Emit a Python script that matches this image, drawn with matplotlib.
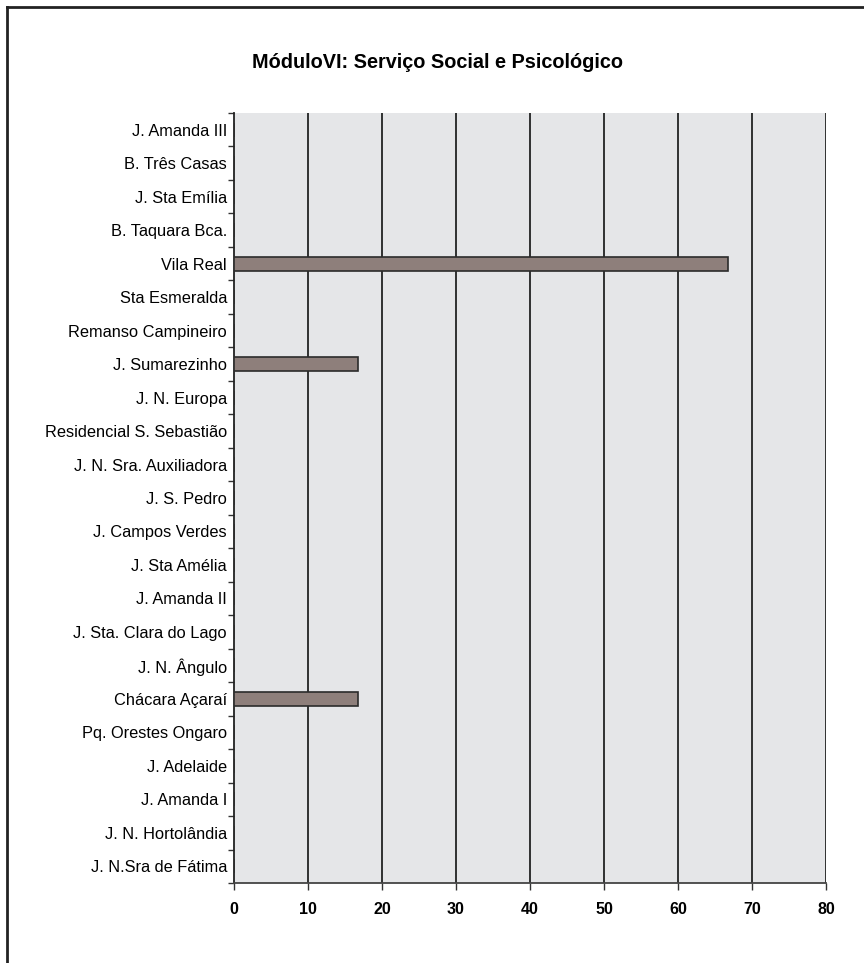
import numpy as np
import matplotlib.pyplot as plt
from matplotlib.lines import Line2D

plt.rcParams['font.family'] = ['Liberation Sans', 'DejaVu Sans']

# categories from top to bottom as shown
bairros = ["J. Amanda III", "B. Três Casas", "J. Sta Emília", "B. Taquara Bca.",
           "Vila Real", "Sta Esmeralda", "Remanso Campineiro", "J. Sumarezinho",
           "J. N. Europa", "Residencial S. Sebastião", "J. N. Sra. Auxiliadora",
           "J. S. Pedro", "J. Campos Verdes", "J. Sta Amélia", "J. Amanda II",
           "J. Sta. Clara do Lago", "J. N. Ângulo", "Chácara Açaraí",
           "Pq. Orestes Ongaro", "J. Adelaide", "J. Amanda I", "J. N. Hortolândia",
           "J. N.Sra de Fátima"]
valores = [0, 0, 0, 0, 66.7, 0, 0, 16.7, 0, 0, 0, 0, 0, 0, 0, 0, 0, 16.7,
           0, 0, 0, 0, 0]
xticks = [0, 10, 20, 30, 40, 50, 60, 70, 80]

fig = plt.figure(figsize=(8.64, 9.63), dpi=100)
ax = fig.add_axes([234/864, 1-883/963, 592/864, 770/963])
ax.set_facecolor('#E5E6E8')

y = np.arange(len(bairros))
ax.barh(y, valores, height=0.42, color='#8E7F7B', edgecolor='#2b2b2b', linewidth=1.2, zorder=3)

ax.set_xlim(0, 80)
ax.set_ylim(len(bairros) - 0.5, -0.5)
ax.set_xticks(xticks)
ax.set_xticklabels([str(t) for t in xticks], fontweight='bold', fontsize=11.5)
for t in xticks[1:]:
    ax.axvline(t, color='#222222', lw=1.3, zorder=2)

ax.set_yticks(y)
ax.set_yticklabels(bairros, fontsize=11.8)
ax.tick_params(axis='y', which='major', length=0, pad=5)
ax.set_yticks(np.arange(-0.5, len(bairros), 1), minor=True)
ax.tick_params(axis='y', which='minor', length=4, width=1, color='#333333')
ax.tick_params(axis='x', length=5, width=1, color='#333333', pad=9)

for s in ['top', 'right']:
    ax.spines[s].set_visible(False)
ax.spines['left'].set_color('#222222')
ax.spines['left'].set_linewidth(1.3)
ax.spines['bottom'].set_color('#444444')
ax.spines['bottom'].set_linewidth(1.3)

fig.text(437/864, 1-62/963, "MóduloVI: Serviço Social e Psicológico",
         ha='center', va='center', fontsize=14.3, fontweight='bold')

# outer frame (left and top edges visible)
fig.add_artist(Line2D([7/864, 7/864], [0, 1-7/963], color='#222222', lw=2.0, transform=fig.transFigure))
fig.add_artist(Line2D([7/864, 1], [1-7/963, 1-7/963], color='#222222', lw=2.0, transform=fig.transFigure))

fig.savefig('out.png', dpi=100)
